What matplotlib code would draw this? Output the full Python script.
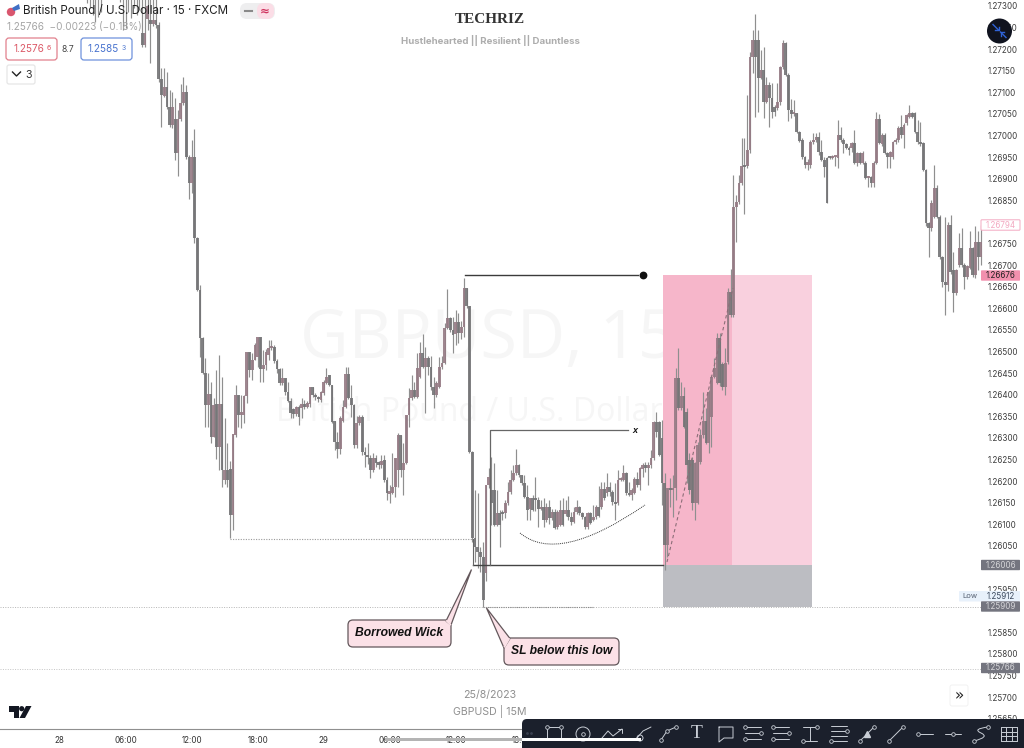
import matplotlib
matplotlib.use("Agg")
import matplotlib.pyplot as plt
from matplotlib.patches import Rectangle, FancyBboxPatch, Polygon, Circle, PathPatch
from matplotlib.path import Path

# prices are stored as points (1e-5) above this base
BASE = 1.26

opens = [1350,1345,1340,1345,1350,1355,1350,1345,1340,1345,1350,1345,1350,1345,1340,1345,1350,1345,1340,1345,
 1238,1210,1270,1268,1258,1268,1256,1131,1092,1113,
 1066,1025,1038,960,1038,1075,1101,950,890,950,
 763,643,531,450,376,402,302,378,279,378,
 203,226,228,122,307,400,353,353,397,499,
 457,481,487,534,460,469,492,508,510,478,
 460,427,439,407,386,367,355,372,370,379,
 372,379,418,400,395,388,405,427,446,423,
 339,291,275,339,372,448,393,376,284,335,
 349,268,261,254,226,254,244,237,249,203,
 171,173,187,226,307,226,242,353,393,411,
 395,441,497,464,485,464,418,400,418,464,
 474,555,578,550,541,569,543,557,647,605,
 268,68,47,36,25,-13,191,180,180,98,
 126,126,126,150,175,203,219,237,214,196,
 163,136,161,161,156,136,141,110,140,115,
 128,94,98,133,124,133,117,105,128,140,
 126,117,94,126,110,117,140,140,182,172,
 186,175,152,150,203,203,219,173,168,173,
 205,191,228,237,230,237,
 254,337,337,300,
 195,52,184,180,184,439,369,397,360,249,
 249,150,150,244,307,339,289,349,441,427,
 531,470,418,476,638,585,835,846,890,930,
 930,967,1182,1221,1221,1133,1152,1078,1117,1087,
 1066,1064,1078,1159,1214,1140,1059,1050,1052,1008,
 990,950,932,932,985,990,997,962,944,948,
 950,948,950,948,1002,990,980,972,972,983,
 937,960,937,937,902,904,890,937,1038,980,1002,
 960,950,950,985,990,1020,1002,1029,1043,1052,
 1052,1008,985,983,920,798,786,812,879,812,
 719,661,654,793,689,636,700,740,700,673,
 693,740,677,754,719]

closes = [1340,1340,1335,1340,1345,1350,1345,1340,1335,1340,1345,1340,1345,1340,1335,1340,1345,1340,1335,1340,
 1210,1238,1300,1258,1268,1256,1131,1094,1113,1066,
 1025,1066,960,1038,1075,1101,950,890,950,763,
 643,531,450,376,402,302,376,279,378,226,
 226,203,122,309,400,353,360,397,499,457,
 481,515,534,460,469,499,508,510,478,460,
 427,439,407,386,358,355,372,349,379,372,
 380,418,400,395,390,407,430,441,423,337,
 291,275,346,372,448,393,376,284,335,349,
 268,261,256,226,254,242,237,246,203,173,
 175,187,254,307,226,242,353,393,411,395,
 462,497,464,485,464,418,400,427,464,474,
 555,578,550,538,569,543,557,647,605,268,
 68,47,36,25,-75,191,210,150,98,126,
 98,124,150,175,203,219,237,214,196,163,
 133,161,133,156,136,141,110,140,115,128,
 92,128,133,98,133,117,105,128,140,126,
 117,94,126,103,117,140,120,182,161,186,
 175,152,147,203,207,219,173,168,180,205,
 191,230,237,230,237,254,
 337,314,260,195,
 52,184,180,184,439,369,397,325,237,180,
 150,242,284,307,339,289,406,441,462,531,
 427,418,473,638,585,835,846,890,930,926,
 967,1182,1221,1182,1133,1152,1078,1117,1087,1055,
 1055,1078,1159,1214,1140,1059,1050,1052,1008,987,
 950,932,938,985,990,997,962,944,927,844,
 948,950,950,1002,990,980,972,967,983,937,
 960,937,960,902,904,890,937,1038,983,1002,960,
 950,962,985,990,1018,1002,1025,1048,1052,1043,
 1008,985,981,920,798,786,844,879,812,719,
 661,654,793,684,636,689,740,700,673,698,
 740,677,754,719,754]

highs = [1380]*20 + [
 1325,1320,1340,1320,1325,1325,1262,1157,1157,1147,
 1106,1101,1087,1059,1120,1136,1117,955,990,1015,
 765,654,534,485,450,430,393,457,492,441,
 346,288,247,309,423,400,400,400,499,499,
 497,520,534,534,504,506,527,527,515,483,
 462,462,439,430,393,370,375,377,393,388,
 385,418,418,404,398,409,434,462,446,423,
 339,314,351,388,464,464,423,378,351,353,
 353,279,288,261,265,261,247,261,261,210,
 190,265,254,312,307,288,353,416,446,430,
 497,522,541,511,490,490,441,432,487,490,
 565,645,580,580,596,589,570,670,647,605,
 270,180,173,47,60,191,230,256,242,180,
 133,133,156,198,226,237,275,240,214,214,
 191,161,168,210,163,156,161,150,156,135,
 135,133,156,161,156,165,128,140,156,142,
 128,120,128,128,145,145,189,198,198,219,
 198,180,196,226,210,237,222,198,184,210,
 220,233,242,245,245,272,
 339,360,340,342,
 219,184,207,214,462,508,430,418,370,265,
 255,245,290,320,406,369,410,445,485,543,
 543,475,508,647,690,909,863,909,994,994,
 1094,1194,1244,1282,1244,1198,1205,1136,1125,1122,
 1070,1122,1160,1221,1216,1145,1085,1082,1053,1010,
 994,952,945,990,1006,1006,1008,990,950,950,
 952,955,952,1036,1020,995,983,975,985,1013,
 962,962,965,940,906,906,940,1055,1050,1005,1005,
 962,965,987,995,1022,1048,1028,1050,1071,1055,
 1055,1035,1032,985,922,800,850,932,885,815,
 722,812,800,816,730,692,775,785,705,700,
 778,743,790,780,793]

lows = [1307,1298,1279,1263,1275,1286,1320,1320,1320,1320,1320,1320,1310,1244,1249,1286,1272,1295,1279,1291,
 1205,1205,1244,1168,1254,1250,1125,1020,1090,1062,
 1020,1018,944,907,1033,1070,945,853,867,751,
 640,487,448,325,325,288,302,251,226,187,
 193,187,69,87,302,325,323,335,381,441,
 434,481,464,430,430,457,481,503,473,450,
 422,422,400,383,347,346,350,330,346,367,
 370,372,395,388,384,384,400,425,420,335,
 272,254,263,337,370,390,349,277,277,330,
 260,233,240,207,220,232,228,230,198,156,
 150,170,163,187,210,168,240,325,388,393,
 393,438,462,358,445,412,370,395,415,460,
 470,553,545,497,515,520,530,534,600,265,
 60,13,0,-10,-91,-31,185,98,96,96,
 47,110,115,145,170,200,215,210,190,160,
 110,110,130,130,94,133,94,105,100,110,
 90,90,96,96,120,110,98,103,125,122,
 112,90,90,100,108,112,118,135,156,165,
 165,145,110,145,200,200,168,165,156,170,
 186,180,210,220,190,230,
 250,302,258,145,
 -6,24,140,117,156,365,365,323,196,170,
 133,110,148,240,300,285,265,280,438,425,
 420,410,400,470,580,580,754,842,885,818,
 925,960,1145,1043,1055,1130,1041,1075,1020,1040,
 1045,1060,1070,1155,1138,1033,1040,1045,1005,985,
 945,925,920,925,980,985,955,940,904,844,
 945,945,930,925,985,960,968,955,962,933,
 930,935,935,900,880,880,880,935,980,975,958,
 925,925,945,980,985,995,972,1025,1040,1040,
 1005,980,975,918,790,719,780,810,810,715,
 650,584,640,680,592,630,695,695,645,668,
 690,672,670,689,700]

time_ticks = [-10, 14, 38, 62, 86, 110, 134, 158]
time_labels = ["28", "06:00", "12:00", "18:00", "29", "06:00", "12:00", "18:00"]
price_ticks = [1.2565 + 0.0005 * k for k in range(34)]
hidden_ticks = ["1.26800", "1.26000", "1.25900"]

ZONE_TOP, ZONE_MID, ZONE_BOT = 1.26676, 1.26006, 1.25909
SWING_LEVEL, RANGE_TOP, PRIOR_LOW, LAST_PRICE = 1.26676, 1.26318, 1.26066, 1.25766

W, H = 1024, 748
AX_R, AX_B = 985, 729
STEP, X0 = 2.75, 87.2

fig = plt.figure(figsize=(W / 100, H / 100), dpi=100, facecolor="white")
plt.rcParams["font.family"] = ["Inter", "DejaVu Sans"]


def pixel_axes(z):
    a = fig.add_axes([0, 0, 1, 1], zorder=z)
    a.set_xlim(0, W)
    a.set_ylim(H, 0)
    a.axis("off")
    a.patch.set_alpha(0)
    return a


# watermark underneath everything
bg = pixel_axes(0)
bg.text(488, 340, "GBPUSD, 15", fontsize=48, color="#f6f6f6", ha="center", va="center",
        family="Open Sans")
bg.text(469, 412, "British Pound / U.S. Dollar", fontsize=23, color="#f6f6f6", ha="center",
        va="center", family="Open Sans")

# price chart
ax = fig.add_axes([0, 1 - AX_B / H, AX_R / W, AX_B / H], zorder=1)
ax.patch.set_alpha(0)
ax.set_xlim(-X0 / STEP, (AX_R - X0) / STEP)
ax.set_ylim(BASE + (567.5 - AX_B) / 43200, BASE + 567.5 / 43200)

# trade zones
ax.add_patch(Rectangle((209.3, ZONE_MID), 25.2, ZONE_TOP - ZONE_MID, fc="#f6b6ca", ec="none", zorder=1))
ax.add_patch(Rectangle((234.5, ZONE_MID), 29.0, ZONE_TOP - ZONE_MID, fc="#f9d0de", ec="none", zorder=1))
ax.add_patch(Rectangle((209.3, ZONE_BOT), 54.2, ZONE_MID - ZONE_BOT, fc="#bcbdc2", ec="none", zorder=1))

# levels
ax.axhline(ZONE_BOT, color="#b5b5b5", lw=0.7, ls=(0, (1, 1.5)), zorder=2)
ax.axhline(LAST_PRICE, color="#c4c4c4", lw=0.7, ls=(0, (1, 1.5)), zorder=2)
ax.plot([52, 140.3], [PRIOR_LOW, PRIOR_LOW], color="#9a9a9a", lw=0.8, ls=(0, (1, 1.3)), zorder=2)
ax.plot([144, 184], [ZONE_BOT, ZONE_BOT], color="#8a8a8a", lw=0.8, ls=(0, (1, 1)), zorder=2)

# candles
for i, (o, h, l, c) in enumerate(zip(opens, highs, lows, closes)):
    up = c >= o
    body = "#957a84" if up else "#747476"
    ax.plot([i, i], [BASE + l * 1e-5, BASE + h * 1e-5], color="#8f8f8f", lw=0.85, zorder=3,
            solid_capstyle="butt")
    ax.add_patch(Rectangle((i - 0.48, BASE + min(o, c) * 1e-5), 0.96,
                           max(abs(c - o), 5) * 1e-5,
                           fc=body, ec="none", alpha=0.9, zorder=4))

# trend-line drawings
ax.plot([137.4, 200.3], [SWING_LEVEL, SWING_LEVEL], color="#3b3b3b", lw=1.0, zorder=5)
ax.plot([202.1], [SWING_LEVEL], "o", color="#111111", ms=4.6, zorder=5)
ax.plot([140.3, 209.3], [ZONE_MID, ZONE_MID], color="#444444", lw=1.0, zorder=5)
ax.plot([146.4, 146.4, 196.6], [ZONE_MID, RANGE_TOP, RANGE_TOP], color="#666666", lw=0.9, zorder=5)
ax.plot([140.3, 140.3], [PRIOR_LOW, ZONE_MID], color="#666666", lw=0.8, zorder=5)
ax.text(199.2, RANGE_TOP - 0.00002, "x", fontsize=6.5, fontweight="bold", style="italic",
        color="#111111", ha="center", va="center", family="Liberation Sans", zorder=6)

# axes styling
for s in ["top", "left", "right"]:
    ax.spines[s].set_visible(False)
ax.spines["bottom"].set_color("#8f8f8f")
ax.spines["bottom"].set_linewidth(0.8)
ax.set_xticks(time_ticks)
ax.set_xticklabels(time_labels, fontsize=5.8, color="#333333")
ax.tick_params(axis="x", length=0, pad=5)
ax.yaxis.tick_right()
ax.set_yticks(price_ticks)
price_text = [f"{p:.5f}" for p in price_ticks]
ax.set_yticklabels(["" if s in hidden_ticks else s for s in price_text], fontsize=5.8, color="#3d3d3d")
ax.tick_params(axis="y", length=0, pad=2)

# overlay: header, price tags, callouts, toolbar
ov = pixel_axes(3)


def t(x, y, s, size, color="#222222", ha="left", **kw):
    ov.text(x, y, s, fontsize=size, color=color, ha=ha, va="center", **kw)


def rbox(x0, y0, x1, y1, fc, ec="none", lw=0.8, r=2, z=5):
    ov.add_patch(FancyBboxPatch((x0 + r, y0 + r), x1 - x0 - 2 * r, y1 - y0 - 2 * r,
                                boxstyle=f"round,pad={r},rounding_size={r}",
                                fc=fc, ec=ec, lw=lw, zorder=z))


# header
ov.add_patch(Circle((11, 12), 4.2, fc="#d9566e", ec="none"))
ov.add_patch(Polygon([[12, 8], [19, 4], [20, 9], [14, 11]], fc="#3f6fc4", ec="none"))
t(23, 11, "British Pound / U.S. Dollar · 15 · FXCM", 8.35, "#222222", zorder=8)
rbox(240, 3, 275, 19, "#eeeeef", r=7)
ov.add_patch(FancyBboxPatch((260, 6), 11, 10, boxstyle="round,pad=3,rounding_size=7", fc="#fbdde6", ec="none", zorder=6))
ov.plot([245, 252], [11, 11], color="#8a8a8a", lw=1.5, zorder=7)
t(265, 11, "≈", 8.5, "#d0345f", ha="center", fontweight="bold", zorder=7, family="DejaVu Sans")
t(7, 27, "1.25766  −0.00223 (−0.18%)", 7.15, "#a5a5a5", zorder=8)
rbox(6, 38, 57, 60, "#ffffff", "#e1808d", 0.9, r=3)
t(13, 49, "1.2576", 7.2, "#dc5a68", zorder=8)
t(46.5, 47.5, "6", 5, "#dc5a68", zorder=8)
t(68, 49, "8.7", 6.2, "#444444", ha="center", zorder=8)
rbox(81, 38, 132, 60, "#ffffff", "#6f92dc", 0.9, r=3)
t(88, 49, "1.2585", 7.2, "#4a74cf", zorder=8)
t(121.5, 47.5, "3", 5, "#4a74cf", zorder=8)
rbox(7, 65, 35, 84, "#ffffff", "#e6e6e6", 0.9, r=2)
ov.plot([12.5, 16.5, 20.5], [72, 76, 72], color="#222222", lw=1, zorder=8)
t(29, 75, "3", 7.6, "#333333", ha="center", zorder=8)

# centre title
t(490, 19, "TECHRIZ", 11, "#333333", ha="center", fontweight="bold", family="Liberation Serif")
t(490, 40.5, "Hustlehearted || Resilient || Dauntless", 6.95, "#adadad", ha="center", fontweight="bold")
t(490, 695, "25/8/2023", 7.6, "#8f8f8f", ha="center")
t(490, 712, "GBPUSD | 15M", 7.6, "#8f8f8f", ha="center")

# TV logo
ov.add_patch(Polygon([[9, 706], [18.5, 706], [18.5, 718], [13.5, 718], [13.5, 711.5], [9, 711.5]], fc="#131722", ec="none"))
ov.add_patch(Circle((21.7, 708.7), 2.6, fc="#131722", ec="none"))
ov.add_patch(Polygon([[26, 706], [31.5, 706], [25, 718], [19.5, 718]], fc="#131722", ec="none"))

# full-screen button
ov.add_patch(Circle((999.5, 31), 12.5, fc="#10131f", ec="none", zorder=6))
for xs, ys in [([993, 998.5], [24.5, 30]), ([995, 998.5, 998.5], [30, 30, 26.5]),
               ([1006, 1000.5], [37.5, 32]), ([1004, 1000.5, 1000.5], [32, 32, 35.5])]:
    ov.plot(xs, ys, color="#2f62d6", lw=1.0, zorder=7)

# price tags
def tag(y, s, fc, ec, color, z=6):
    rbox(981, y - 5.2, 1020, y + 5.2, fc, ec, 0.7, r=0.8, z=z)
    ov.text(1000.5, y, s, fontsize=5.8, color=color, ha="center", va="center", zorder=z + 1)


tag(225, "1.26794", "#ffffff", "#f3a9c1", "#f3a9c1")
tag(275.5, "1.26676", "#f290ae", "none", "#222222")
tag(565, "1.26006", "#74757f", "none", "#d5d5d8")
rbox(959, 591, 1020, 601.5, "#e8f1fb", r=0.8)
ov.text(969.5, 596.3, "Low", fontsize=5.5, color="#555f70", ha="center", va="center", zorder=7)
ov.text(1000.5, 596.3, "1.25912", fontsize=5.8, color="#3c4a5e", ha="center", va="center", zorder=7)
tag(606.5, "1.25909", "#74757f", "none", "#d5d5d8")
tag(668, "1.25766", "#74757f", "none", "#d5d5d8")

# callouts
CALL_FC, CALL_EC = "#fbe1e7", "#63575b"
rbox(348, 620, 451, 647, CALL_FC, CALL_EC, 0.9, r=5, z=6)
ov.add_patch(Polygon([[446, 621], [471.5, 569.5], [451, 625]], fc=CALL_FC, ec=CALL_EC, lw=0.9, zorder=7, joinstyle="miter"))
ov.plot([446.8, 450.3], [621, 624.5], color=CALL_FC, lw=1.3, zorder=8)
t(399.5, 632.5, "Borrowed Wick", 8.7, "#111111", ha="center", fontweight="bold", style="italic",
  family="Liberation Sans", zorder=9)
rbox(504, 638, 619, 665, CALL_FC, CALL_EC, 0.9, r=5, z=6)
ov.add_patch(Polygon([[486.5, 608], [510, 638.5], [504, 648]], fc=CALL_FC, ec=CALL_EC, lw=0.9, zorder=7, joinstyle="miter"))
ov.plot([509, 504.6], [639, 646.6], color=CALL_FC, lw=1.3, zorder=8)
t(561.5, 651, "SL below this low", 8.7, "#111111", ha="center", fontweight="bold", style="italic",
  family="Liberation Sans", zorder=9)

# rounded-bottom curve and dashed projection
ov.add_patch(PathPatch(Path([(520, 533), (558, 565), (645, 505)], [Path.MOVETO, Path.CURVE3, Path.CURVE3]),
                       fc="none", ec="#333333", lw=0.7, ls=(0, (1, 1)), zorder=3))
ov.plot([667, 733], [562, 288], color="#8c6e78", lw=0.8, ls=(0, (3, 2.5)), zorder=3)

# scroll button
rbox(950, 685, 968, 706, "#ffffff", "#f0f0f0", 0.6, r=2)
t(959, 695.5, "»", 11, "#222222", ha="center", zorder=8, family="DejaVu Sans")

# right edge
ov.plot([1023.5, 1023.5], [0, 748], color="#b9b9b9", lw=0.7, zorder=1)

# toolbar
TB = "#1b202c"
IC = "#c9ced6"
rbox(522, 719, 1030, 760, TB, r=5, z=10)
ov.add_patch(Rectangle((385, 738), 137, 3, fc="#b4b4b4", ec="none", zorder=9))
ov.add_patch(Rectangle((522, 738), 119, 3, fc="#ffffff", ec="none", zorder=12))


def line(xs, ys):
    ov.plot(xs, ys, color=IC, lw=0.7, zorder=11, solid_capstyle="round")


def node(x, y):
    ov.plot([x], [y], "o", ms=2.6, mfc=TB, mec=IC, mew=0.6, zorder=11)


ov.plot([527, 531], [733, 733], ".", color="#3a4050", ms=2, zorder=11)
# rectangle
line([547, 547, 561, 561], [728, 738, 738, 728]); line([547, 561], [727, 727]); node(547, 727); node(561, 727)
# circle
ov.add_patch(Circle((583, 734), 7, fc="none", ec=IC, lw=0.7, zorder=11)); node(583, 734)
# zig-zag
line([602, 608, 613, 622], [738, 731, 736, 729])
line([618, 622, 622], [729, 729, 733])
# curve
line([637, 643, 651], [738, 731, 727]); ov.add_patch(Circle((640, 738), 3, fc="none", ec=IC, lw=0.7, zorder=11))
# polyline
line([661, 667, 676], [740, 731, 727]); node(661, 740); node(667, 731); node(676, 727)
# T
ov.text(697, 733, "T", fontsize=14, color=IC, ha="center", va="center", family="Liberation Serif", zorder=11)
# bubble
line([719, 733, 733, 724, 719, 719], [727, 727, 738, 738, 742, 727])


def stack(cx):
    for dy in (-6, 0, 6):
        line([cx - 8, cx + 8], [733 + dy, 733 + dy]); node(cx - 8 if dy else cx + 8, 733 + dy)


stack(753); stack(781)
line([803, 817], [727, 727]); line([803, 817], [741, 741]); line([810, 810], [727, 741]); node(817, 727); node(803, 741)
for dy in (-7, -2, 3, 8):
    line([831, 847], [733 + dy, 733 + dy])
node(831, 741); node(847, 731)
line([860, 874], [741, 727]); node(860, 741); node(874, 727)
ov.plot([867], [734], "^", ms=4, color=IC, zorder=11)
line([889, 903], [741, 727]); node(889, 741); node(903, 727)
line([918, 933], [733.5, 733.5]); node(918, 733.5)
line([945, 961], [733.5, 733.5]); node(953, 733.5)
ov.add_patch(PathPatch(Path([(974, 741), (990, 737), (981, 733), (972, 729), (988, 727)],
                            [Path.MOVETO, Path.CURVE3, Path.CURVE3, Path.CURVE3, Path.CURVE3]),
                       fc="none", ec=IC, lw=0.7, zorder=11))
node(974, 741); node(988, 727)
for k in range(4):
    line([1001 + k * 5.3, 1001 + k * 5.3], [727, 741])
    line([1001, 1017], [727 + k * 4.7, 727 + k * 4.7])

fig.savefig("out.png", dpi=100, facecolor="white")
